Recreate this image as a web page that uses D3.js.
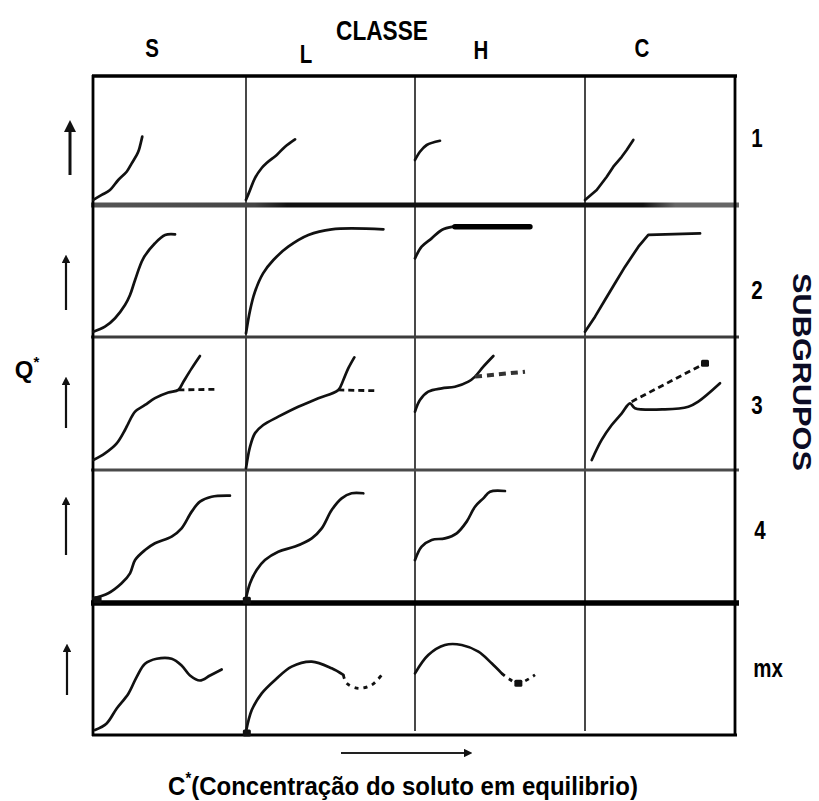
<!DOCTYPE html>
<html><head><meta charset="utf-8">
<script src="https://cdn.jsdelivr.net/npm/d3@7/dist/d3.min.js"></script>
<style>body{margin:0;background:#fff}svg{display:block}</style>
</head><body>
<svg id="c" width="819" height="801"></svg>
<script>
// ---------- data ----------
const classes = ["S","L","H","C"];
const subgroups = ["1","2","3","4","mx"];
const xTitle = "(Concentração do soluto em equilibrio)";

// curves, in cell units: x 0..100 across the cell, y 0..100 from cell bottom to top
const s1 = [[0.2,4],[5.7,7.8],[11.1,11.6],[16.5,19.4],[22,25.8],[25.3,32.3],[28.6,38.8],[30,42.6],[31.2,48],[32.2,53]];
const l1 = [[0,4],[2.4,11.6],[5.3,20.9],[9.3,28.7],[12.2,32.6],[18.2,38.8],[23.1,45.2],[29,50.9]];
const h1 = [[0,34.9],[2.9,41.3],[6.9,46.5],[14.7,49.8]];
const c1 = [[0,3.9],[7.8,11.6],[14.5,21.9],[18.9,29.7],[24.5,37.4],[27.8,42.6],[32.2,50.4]];

const s2 = [[0.2,4],[7.8,7.8],[14.4,14.2],[20.9,24.2],[24.2,31.8],[27.5,43.2],[32.9,59.6],[40.5,71],[47.1,77.3],[53.6,77.8]];
const l2 = [[0,2.8],[2.4,20.2],[5.3,34.3],[10.1,48.2],[16.2,58.3],[25,68.4],[36.9,77.3],[50.7,81.6],[81.3,81.6]];
const h2 = [[0,59.6],[3.9,68.4],[9.8,74.7],[15.7,81.1],[22.5,83.6]];
const h2plateau = [[23.5,83.6],[67.6,83.6]];
const c2 = [[0,4],[6.7,15.4],[13.3,28],[20,40.7],[26.7,53.3],[35.6,68.4],[42.2,77.3],[76.7,78.5]];

const s3 = [[0.2,7.5],[7.8,12.5],[15.5,20],[20.9,30.1],[23.1,35.1],[27.5,43.9],[34,48.9],[40.5,54],[49.2,58.2],[55.8,60.2],[59.1,66.4],[64.5,76.4],[69.9,85.7]];
const s3alt = [[55.8,60.2],[81.9,60.7]];
const l3 = [[0,1.3],[2.4,17.5],[5.3,27.6],[10.2,33.8],[19.1,40.1],[30.9,47.6],[42.8,53.9],[54.6,60.2],[57.6,67.7],[60.5,76.4],[64.1,84.7]];
const l3alt = [[54.6,60.2],[76.3,59.6]];
const h3 = [[0,43.9],[2.9,52.6],[7.8,58.9],[15.7,61.4],[23.5,62.6],[31.4,66.4],[35.3,70.2],[40.2,77.7],[46.1,85.7]];
const h3alt = [[35.3,70.2],[64.7,73.9]];
const c3 = [[4.5,7.5],[11.1,22.6],[17.8,33.8],[24.5,42.6],[30,50.1],[33.3,46.5],[53.3,45.6],[68.9,47.6],[75.5,51.4],[90,65.2]];
const c3alt = [[31.1,51.4],[80,80.2]];

const s4 = [[0.2,3.5],[10,7.3],[18.7,14.8],[24.2,22.3],[27.5,32.3],[34,39.8],[40.5,44.9],[51.4,49.9],[57.9,56.1],[64.5,68.7],[69.9,76.2],[77.5,79.9],[89.5,80.7]];
const l4 = [[0,3.5],[2.4,14.8],[6.3,24.8],[11.2,32.3],[19.1,38.6],[29,42.4],[38.9,48.6],[44.8,56.1],[50.7,69.9],[56.6,78.7],[62.5,82.5],[69.4,82.5]];
const h4 = [[0,32.3],[3.9,42.4],[9.8,47.4],[17.6,48.6],[24.5,52.4],[30.4,61.2],[35.3,72.4],[40.2,78.7],[44.1,83.7],[52.9,84.2]];

const s5 = [[1.3,3.8],[8.9,8.8],[15.5,20.1],[23.1,31.3],[28.5,43.9],[34,54],[41.6,57.8],[51.4,57.8],[57.9,52.7],[63.4,45.1],[69.9,41.3],[76.5,45.1],[84.1,49.6]];
const l5 = [[0,2.5],[3.4,18.9],[9.3,31.5],[17.2,41.7],[27,51.8],[38.9,55.6],[50.7,50.5],[57.6,45.5]];
const l5alt = [[57.6,45.5],[59.6,39.2],[66.5,35.4],[74.4,37.9],[80.3,45.5]];
const h5 = [[0,46.7],[7.8,60.6],[17.6,68.2],[27.5,68.2],[37.3,63.1],[45.1,54.3],[51,46.7]];
const h5alt = [[51,46.7],[54.9,42.9],[60.8,39.2],[70.6,45.5]];

// small ink blots at curve origins / ends: [col, row, x, y] in cell units
const blots = [[0,3,3,2.5],[1,3,0.5,2],[1,4,0.5,1.5],[2,4,60.8,39.2],[3,2,80,80.2]];

// which cell each curve sits in (column, row) and its kind
const curves = [
  {col:0,row:0,pts:s1,kind:"solid"},{col:1,row:0,pts:l1,kind:"solid"},
  {col:2,row:0,pts:h1,kind:"solid"},{col:3,row:0,pts:c1,kind:"linear"},
  {col:0,row:1,pts:s2,kind:"solid"},{col:1,row:1,pts:l2,kind:"solid"},
  {col:2,row:1,pts:h2,kind:"solid"},{col:2,row:1,pts:h2plateau,kind:"plateau"},
  {col:3,row:1,pts:c2,kind:"linear"},
  {col:0,row:2,pts:s3,kind:"solid"},{col:0,row:2,pts:s3alt,kind:"dash"},
  {col:1,row:2,pts:l3,kind:"solid"},{col:1,row:2,pts:l3alt,kind:"dash"},
  {col:2,row:2,pts:h3,kind:"solid"},{col:2,row:2,pts:h3alt,kind:"dashbold"},
  {col:3,row:2,pts:c3,kind:"solid"},{col:3,row:2,pts:c3alt,kind:"dash"},
  {col:0,row:3,pts:s4,kind:"solid"},{col:1,row:3,pts:l4,kind:"solid"},
  {col:2,row:3,pts:h4,kind:"solid"},
  {col:0,row:4,pts:s5,kind:"solid"},{col:1,row:4,pts:l5,kind:"solid"},
  {col:1,row:4,pts:l5alt,kind:"dashsparse"},{col:2,row:4,pts:h5,kind:"solid"},
  {col:2,row:4,pts:h5alt,kind:"dashsparse"}
];

// ---------- layout ----------
const colEdges = [93,246,415,585,735];
const rowEdges = [76,205,337,470,603,735];
const svg = d3.select("#c");
const FONT = "'Liberation Sans', Arial, sans-serif";

function cellX(c){ return d3.scaleLinear().domain([0,100]).range([colEdges[c], colEdges[c+1]]); }
function cellY(r){ return d3.scaleLinear().domain([0,100]).range([rowEdges[r+1], rowEdges[r]]); }

const defs = svg.append("defs");
const g1 = defs.append("linearGradient").attr("id","rowg").attr("gradientUnits","userSpaceOnUse")
  .attr("x1",93).attr("x2",740).attr("y1",0).attr("y2",0);
[[0,"#555"],[0.25,"#444"],[0.3,"#111"],[0.85,"#111"],[0.9,"#666"],[1,"#666"]]
  .forEach(([o,c])=>g1.append("stop").attr("offset",o).attr("stop-color",c));
defs.append("marker").attr("id","ah").attr("viewBox","0 0 10 10").attr("refX",5).attr("refY",5)
  .attr("markerWidth",4).attr("markerHeight",4).attr("orient","auto-start-reverse")
  .attr("markerUnits","strokeWidth")
  .append("path").attr("d","M0,0 L10,5 L0,10 z").attr("fill","#111");

const grid = svg.append("g");
colEdges.slice(1,-1).forEach(x=>{
  grid.append("line").attr("x1",x).attr("x2",x).attr("y1",rowEdges[0]).attr("y2",rowEdges[5]-4)
    .attr("stroke","#1a1a1a").attr("stroke-width",1.6);
});
const rowStyles = [
  {y:rowEdges[1],w:5,c:"url(#rowg)"},
  {y:rowEdges[2],w:3,c:"#3c3c3c"},
  {y:rowEdges[3],w:3,c:"#4a4a4a"},
  {y:rowEdges[4],w:5.5,c:"#000"}
];
rowStyles.forEach(s=>{
  grid.append("line").attr("x1",91).attr("x2",739).attr("y1",s.y).attr("y2",s.y)
    .attr("stroke",s.c).attr("stroke-width",s.w);
});
grid.append("line").attr("x1",92).attr("x2",737).attr("y1",76).attr("y2",76).attr("stroke","#000").attr("stroke-width",3.5);
grid.append("line").attr("x1",92).attr("x2",737).attr("y1",735).attr("y2",735).attr("stroke","#000").attr("stroke-width",3);
grid.append("line").attr("x1",93).attr("x2",93).attr("y1",75).attr("y2",736).attr("stroke","#000").attr("stroke-width",2.8);
grid.append("line").attr("x1",735).attr("x2",735).attr("y1",75).attr("y2",736).attr("stroke","#000").attr("stroke-width",2.8);

const cg = svg.append("g").attr("fill","none").attr("stroke","#111").attr("stroke-linecap","round").attr("stroke-linejoin","round");
curves.forEach(cv=>{
  const x = cellX(cv.col), y = cellY(cv.row);
  const line = d3.line().x(d=>x(d[0])).y(d=>y(d[1]))
    .curve(cv.kind==="linear" ? d3.curveLinear : d3.curveCatmullRom.alpha(0.5));
  const p = cg.append("path").attr("d", line(cv.pts)).attr("stroke-width",2.7);
  if(cv.kind==="plateau") p.attr("stroke-width",5.5).attr("stroke","#000");
  if(cv.kind==="dash") p.attr("stroke-dasharray","6,4").attr("stroke-linecap","butt").attr("stroke-width",2.8);
  if(cv.kind==="dashbold") p.attr("stroke-dasharray","7,5").attr("stroke-linecap","butt").attr("stroke-width",4).attr("stroke","#333");
  if(cv.kind==="dashsparse") p.attr("stroke-dasharray","4,5").attr("stroke-linecap","butt").attr("stroke-width",2.8);
});
blots.forEach(([c,r,bx,by])=>{
  const x = cellX(c), y = cellY(r);
  svg.append("rect").attr("x",x(bx)-4).attr("y",y(by)-3.5).attr("width",8).attr("height",7)
    .attr("rx",1.5).attr("fill","#111");
});

function label(x,y,txt,size,opts={}){
  const g = svg.append("g").attr("transform",`translate(${x},${y})${opts.rot?` rotate(${opts.rot})`:""}`);
  const t = g.append("text").attr("font-family",FONT).attr("font-weight","bold").attr("font-size",size)
    .attr("fill",opts.color||"#000").attr("text-anchor","middle").attr("dominant-baseline",opts.base||"alphabetic");
  if(opts.parts){ opts.parts(t); } else t.text(txt);
  let sx = opts.sx || 0.82;
  if(opts.width){ const w = t.node().getComputedTextLength(); sx = opts.width / w; }
  t.attr("transform",`scale(${sx},1)`);
  return t;
}

label(382,40,"CLASSE",27,{width:92});
const headX = [152,306,481,642], headY = [57,63,59,57];
classes.forEach((c,i)=>label(headX[i],headY[i],c,25));
const subY = [138,290,405,530,668], subX = [757,757,757,760,768];
subgroups.forEach((s,i)=>label(subX[i],subY[i],s,25,{base:"central"}));
label(802,372,"SUBGRUPOS",26,{rot:90,base:"central",width:198,color:"#0b0b24"});
label(27,369,"",24,{sx:1,base:"central",parts:t=>{
  t.append("tspan").text("Q");
  t.append("tspan").attr("font-size",15).attr("dy",-8).text("*");
}});
const arrows = [[70,175,120,3],[66,310,253,2.2],[66,428,375,2.2],[66,555,495,2.2],[67,695,642,2.2]];
arrows.forEach(([x,y1,y2,w])=>{
  svg.append("line").attr("x1",x).attr("x2",x).attr("y1",y1).attr("y2",y2+6)
    .attr("stroke","#111").attr("stroke-width",w).attr("marker-end","url(#ah)");
});
svg.append("line").attr("x1",341).attr("x2",468).attr("y1",753).attr("y2",753)
  .attr("stroke","#222").attr("stroke-width",2.2).attr("marker-end","url(#ah)");
label(403,795,"",26,{width:470,parts:t=>{
  t.append("tspan").text("C");
  t.append("tspan").attr("font-size",16).attr("dy",-11).text("*");
  t.append("tspan").attr("dy",11).text(xTitle);
}});
</script>
</body></html>
